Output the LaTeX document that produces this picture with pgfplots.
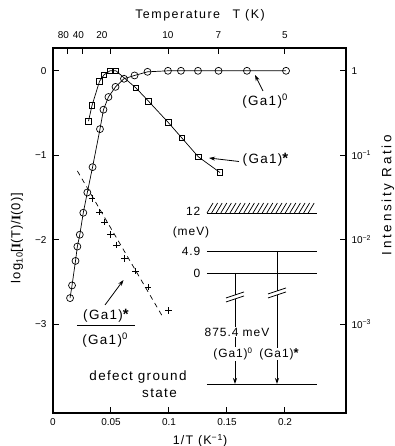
\documentclass[border=0pt]{standalone}
\usepackage{fontspec}
\setmainfont{Liberation Sans}
\newfontfamily\serifI{Liberation Serif}
\usepackage{pgfplots}
\pgfplotsset{compat=1.18}
\usetikzlibrary{arrows.meta}
\tikzset{
  ann/.style={font=\fontsize{13.5}{15}\selectfont\addfontfeatures{LetterSpace=10}, inner sep=0.5bp},
  anns/.style={font=\fontsize{12}{14}\selectfont\addfontfeatures{LetterSpace=8}, inner sep=0.5bp},
  tk/.style={font=\fontsize{10}{12}\selectfont},
}
\newcommand{\gstar}{{\bfseries\fontsize{15}{15}\selectfont *}}
\newcommand{\gstars}{{\bfseries\fontsize{13}{13}\selectfont *}}
\begin{document}
\begin{tikzpicture}
\useasboundingbox (-53bp,-33bp) rectangle (342bp,413bp);
\begin{axis}[at={(0,0)}, anchor=south west, scale only axis, width=293bp, height=365bp,
  xmin=0, xmax=0.2526, ymin=-4.05, ymax=0.27,
  axis line style={line width=1.1pt},
  xtick pos=bottom, ytick pos=left,
  xtick={0,0.05,0.1,0.15,0.2}, xticklabels={0,0.05,0.1,0.15,0.2},
  ytick={0,-1,-2,-3}, yticklabels={0,−1,−2,−3},
  tick align=inside, major tick length=6bp, tick style={line width=1pt, black},
  xticklabel style={tk, yshift=-2bp},
  yticklabel style={tk, xshift=-3bp},
  clip=false]
\addplot[black, line width=0.7pt, dash pattern=on 5bp off 4bp] coordinates {(0.0210,-1.185) (0.0937,-2.891)};
\addplot[black, only marks, mark=+, mark size=3.3, mark options={line width=0.7pt}] coordinates {
(0.0336,-1.51) (0.0399,-1.67) (0.0444,-1.79) (0.0496,-1.94) (0.0547,-2.06) (0.0618,-2.22) (0.0711,-2.37) (0.0819,-2.56) (0.0994,-2.84)};
\addplot[black, line width=0.7pt, mark=square, mark size=2.8, mark options={fill=white, solid}] coordinates {
(0.0306,-0.596) (0.0336,-0.412) (0.0401,-0.124) (0.0440,-0.047) (0.0491,0) (0.0543,0) (0.0716,-0.204) (0.0823,-0.359) (0.0994,-0.612) (0.1109,-0.792) (0.1253,-1.018) (0.1440,-1.204)};
\addplot[black, line width=0.7pt, mark=o, mark size=3.5, mark options={fill=white, solid}] coordinates {
(0.0147,-2.69) (0.0164,-2.54) (0.0194,-2.25) (0.0210,-2.08) (0.0231,-1.94) (0.0261,-1.68) (0.0296,-1.44) (0.0341,-1.14) (0.0405,-0.69) (0.0435,-0.46) (0.0478,-0.31) (0.0539,-0.19) (0.0612,-0.094) (0.0703,-0.055) (0.0815,-0.012) (0.0991,0) (0.1103,0) (0.125,0) (0.1427,0) (0.1672,0) (0.2009,0)};
\end{axis}
\begin{axis}[at={(0,0)}, anchor=south west, scale only axis, width=293bp, height=365bp,
  xmin=0, xmax=0.2526, ymin=-4.05, ymax=0.27,
  axis line style={line width=1.1pt},
  xtick pos=top, ytick pos=right, yticklabel pos=right,
  xtick={0.0125,0.025,0.05,0.1,0.142857,0.2}, xticklabels={,,,,,},
  ytick={0,-1,-2,-3}, yticklabels={1,10\textsuperscript{−1},10\textsuperscript{−2},10\textsuperscript{−3}},
  tick align=inside, major tick length=6bp, tick style={line width=1pt, black},
  yticklabel style={tk, xshift=2bp}]
\end{axis}
\begin{scope}[shift={(-53bp,413bp)}, x=1bp, y=-1bp]
% axis titles
\node[font=\fontsize{12.5}{14}\selectfont\addfontfeatures{LetterSpace=12}] at (200,15) {Temperature\quad T (K)};
\node[tk] at (63.5,35) {80};
\node[tk] at (78.5,35) {40};
\node[tk] at (102,35) {20};
\node[tk] at (168,35) {10};
\node[tk] at (218.5,35) {7};
\node[tk] at (285,35) {5};
\node[rotate=90, font=\fontsize{13}{14}\selectfont\addfontfeatures{LetterSpace=8}] at (17,238) {log\textsubscript{10}[{\serifI\bfseries I}(T)/{\serifI\bfseries I}(0)]};
\node[rotate=90, font=\fontsize{13.5}{14}\selectfont\addfontfeatures{LetterSpace=20}] at (388,195) {Intensity Ratio};
\node[font=\fontsize{12.5}{14}\selectfont\addfontfeatures{LetterSpace=10}] at (200,441) {1/T (K\textsuperscript{−1})};
% curve labels
\node[ann] at (265,101) {(Ga1)\textsuperscript{0}};
\draw[line width=0.8pt, -{Stealth[length=6bp,width=4bp]}] (263,91) -- (255,75);
\node[ann, anchor=west] at (242,160) {(Ga1)\gstar};
\draw[line width=0.8pt, -{Stealth[length=6bp,width=4bp]}] (239,161.5) -- (209,158);
\node[ann] at (106,316) {(Ga1)\gstar};
\draw[line width=0.8pt] (77,325.5) -- (135,325.5);
\node[ann] at (105,340) {(Ga1)\textsuperscript{0}};
\draw[line width=0.8pt, -{Stealth[length=6bp,width=4bp]}] (105,305) -- (123.5,280);
\node[ann] at (138,377) {defect ground};
\node[ann] at (159.5,393) {state};
% level diagram
\draw[line width=0.9pt] (207,213) -- (317,213);
\foreach \xx in {207,211.6,...,312} {\draw[line width=0.7pt] (\xx,213) -- (\xx+6,203);}
\draw[line width=0.9pt] (207,251) -- (317,251);
\draw[line width=0.9pt] (207,273) -- (317,273);
\draw[line width=0.9pt] (207,384) -- (317,384);
\node[anns, anchor=east] at (201,211) {12};
\node[anns] at (191,232) {(meV)};
\node[anns, anchor=east] at (201,251) {4.9};
\node[anns, anchor=east] at (201,273) {0};
% transitions
\draw[line width=0.8pt] (235,273) -- (235,295);
\draw[line width=0.8pt, -{Stealth[length=6bp,width=4bp]}] (235,299.5) -- (235,384);
\draw[line width=0.8pt] (226,298) -- (244,292);
\draw[line width=0.8pt] (226,302) -- (244,296);
\draw[line width=0.8pt] (277,251) -- (277,291);
\draw[line width=0.8pt, -{Stealth[length=6bp,width=4bp]}] (277,295.5) -- (277,384);
\draw[line width=0.8pt] (268,294) -- (286,288);
\draw[line width=0.8pt] (268,298) -- (286,292);
\node[anns, fill=white] at (237,332) {875.4 meV};
\node[anns, fill=white] at (233,354) {(Ga1)\textsuperscript{0}};
\node[anns, fill=white] at (279,354) {(Ga1)\gstars};
\end{scope}
\end{tikzpicture}
\end{document}
